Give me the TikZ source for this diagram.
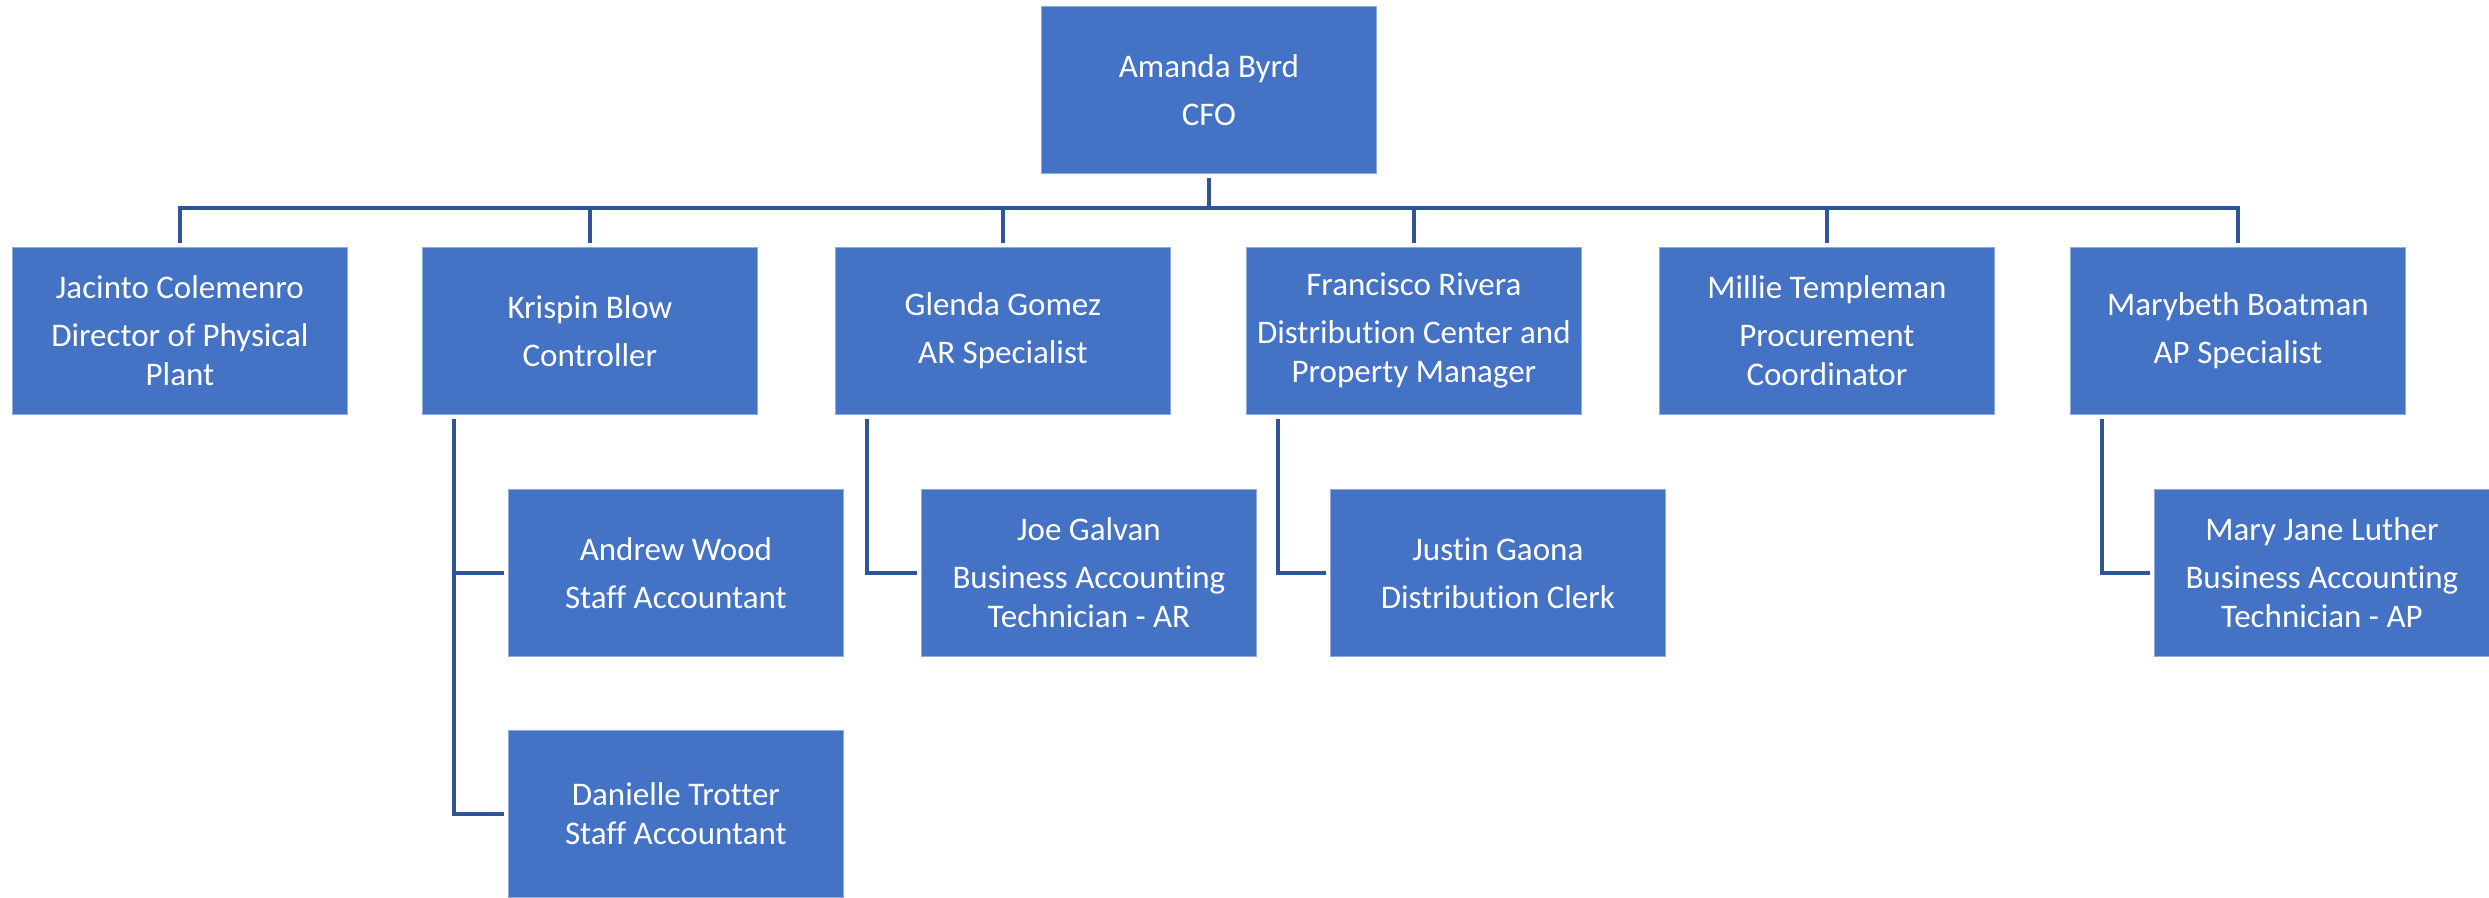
\documentclass[tikz,border=0pt]{standalone}
\usepackage{fontspec}
\setmainfont{Carlito}[Ligatures={NoCommon}]
\definecolor{boxblue}{HTML}{4472C4}
\definecolor{linkblue}{HTML}{2F5597}
\tikzset{
  orgbox/.style={rectangle, anchor=north west, fill=boxblue, draw=boxblue!60!white, line width=0.8pt,
    minimum width=335pt, minimum height=167pt, inner sep=0pt, align=center, text=white,
    font=\fontsize{33}{39}\selectfont},
  link/.style={draw=linkblue, line width=3.5pt}
}
\begin{document}
\begin{tikzpicture}[x=1pt,y=-1pt]
\useasboundingbox (0,0) rectangle (2489,897);
\node[orgbox] (amanda) at (1041,6) {Amanda Byrd\\[9pt]CFO};
\node[orgbox] (jac) at (12,247) {Jacinto Colemenro\\[9pt]Director of Physical\\Plant};
\node[orgbox] (kri) at (422,247) {Krispin Blow\\[9pt]Controller};
\node[orgbox] (gle) at (835,247) {Glenda Gomez\\[9pt]AR Specialist};
\node[orgbox] (fra) at (1246,247) {Francisco Rivera\\[9pt]Distribution Center and\\Property Manager};
\node[orgbox] (mil) at (1659,247) {Millie Templeman\\[9pt]Procurement\\Coordinator};
\node[orgbox] (mar) at (2070,247) {Marybeth Boatman\\[9pt]AP Specialist};
\node[orgbox] (and) at (508,489) {Andrew Wood\\[9pt]Staff Accountant};
\node[orgbox] (joe) at (921,489) {Joe Galvan\\[9pt]Business Accounting\\Technician - AR};
\node[orgbox] (jus) at (1330,489) {Justin Gaona\\[9pt]Distribution Clerk};
\node[orgbox] (mjl) at (2154,489) {Mary Jane Luther\\[9pt]Business Accounting\\Technician - AP};
\node[orgbox] (dan) at (508,730) {Danielle Trotter\\Staff Accountant};
\coordinate (bus) at (0,208);
\foreach \c in {jac,kri,gle,fra,mil,mar}{
  \draw[link] ([yshift=-4pt]amanda.south) -- (amanda.south |- bus) -| ([yshift=4pt]\c.north);
}
\foreach \p/\c in {kri/and,kri/dan,gle/joe,fra/jus,mar/mjl}{
  \draw[link] ([xshift=32pt,yshift=-4pt]\p.south west) |- ([xshift=-4pt]\c.west);
}
\end{tikzpicture}
\end{document}
